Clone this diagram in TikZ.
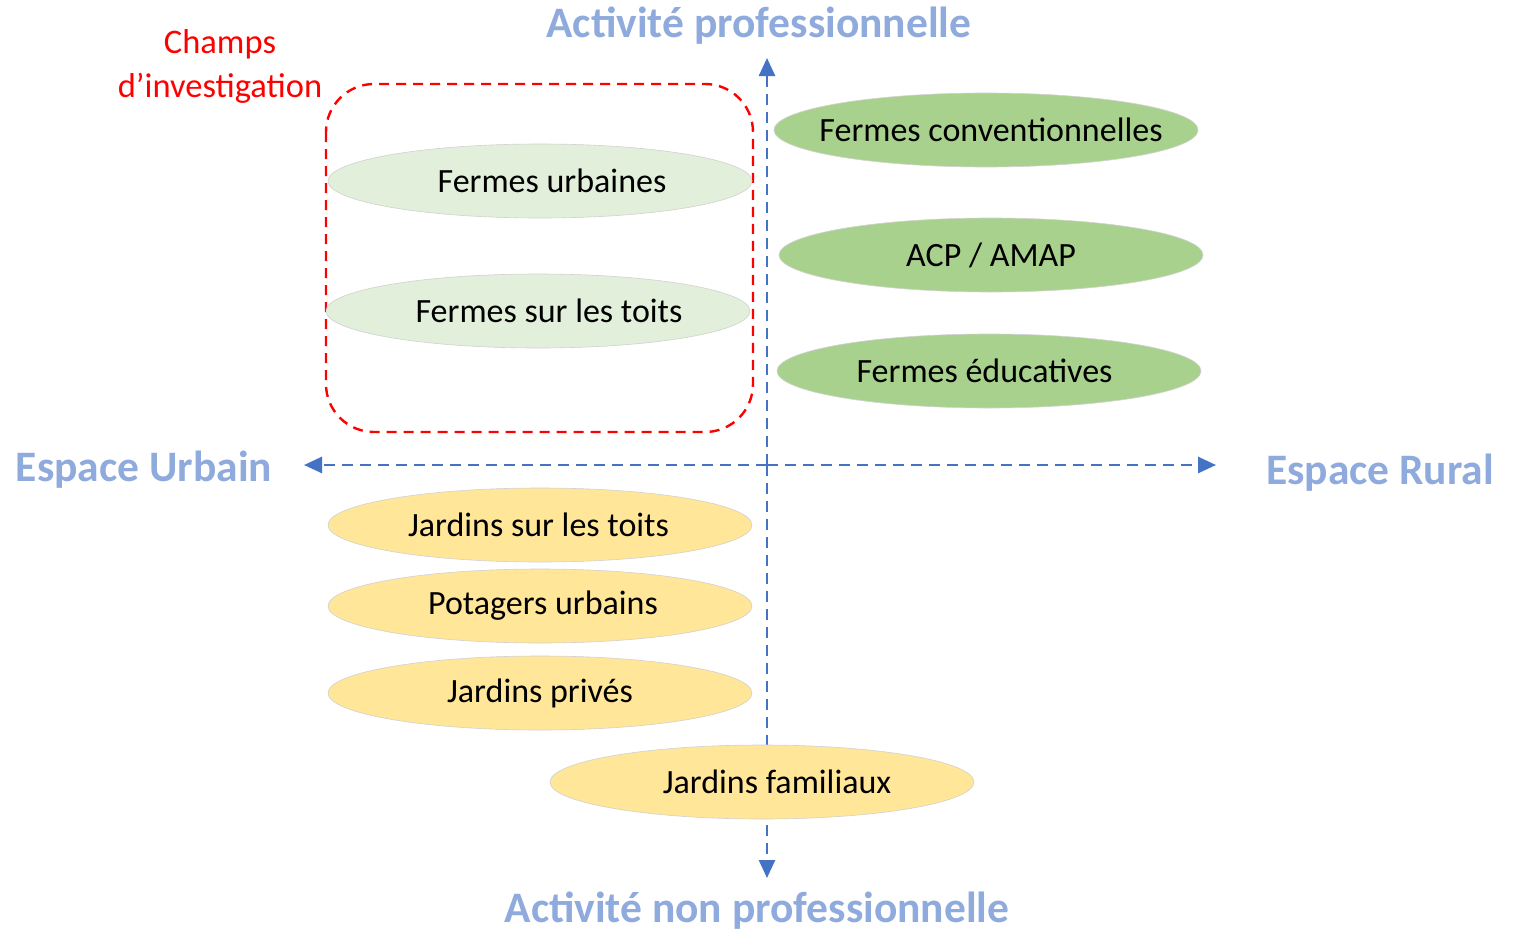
\documentclass[tikz,border=0pt]{standalone}
\usepackage{fontspec}
\setmainfont{Carlito}
\usetikzlibrary{shapes.geometric,arrows.meta}
\definecolor{axisblue}{HTML}{4472C4}
\definecolor{labelblue}{HTML}{8FAADC}
\definecolor{lightgreen}{HTML}{E2EFDA}
\definecolor{midgreen}{HTML}{A9D18E}
\definecolor{lightyellow}{HTML}{FFE699}
\definecolor{redline}{HTML}{FF0000}
\newcommand{\rsh}[2]{\hspace*{#1}#2}
\newcommand{\lsh}[2]{#2\hspace*{#1}}
\tikzset{
  oval/.style={ellipse, draw=black!18, line width=0.6pt, minimum width=424pt, minimum height=74pt, inner xsep=-60pt, inner ysep=0pt, font=\fontsize{34}{40}\selectfont},
  lg/.style={oval, fill=lightgreen},
  mg/.style={oval, fill=midgreen},
  yw/.style={oval, fill=lightyellow},
  axislbl/.style={text=labelblue, font=\bfseries\fontsize{43.5}{46}\selectfont, inner sep=0pt},
  axisline/.style={axisblue, line width=2.6pt, dash pattern=on 11pt off 7pt, -{Triangle[length=18pt,width=16pt]}},
}
\begin{document}
\begin{tikzpicture}[x=1pt,y=-1pt]
\useasboundingbox (0,0) rectangle (1514,934);
\fill[white] (0,0) rectangle (1514,934);
\coordinate (c) at (767,465);
\coordinate (top) at (767,58);
\coordinate (bot) at (767,878);
\coordinate (left) at (304,465);
\coordinate (right) at (1216,465);
\draw[axisline] (c) -- (top);
\draw[axisline] (c) -- (bot);
\draw[axisline] (c) -- (left);
\draw[axisline] (c) -- (right);
\node[axislbl] (tl) at (759,26) {Activité professionnelle};
\node[axislbl] (bl) at (757,911) {Activité non professionnelle};
\node[axislbl] (ll) at (144,470) {Espace Urbain};
\node[axislbl] (rl) at (1380,473) {Espace Rural};
\draw[redline, line width=2.4pt, dash pattern=on 10pt off 7pt, rounded corners=48pt] (326,84) rectangle (753,432);
\node[text=redline, font=\fontsize{34.5}{44}\selectfont, align=center] (champs) at (220,66) {Champs\\d’investigation};
\node[lg] (fu) at (540,181) {\rsh{24pt}{Fermes urbaines}};
\node[lg] (ft) at (538,311) {\rsh{22pt}{Fermes sur les toits}};
\node[mg] (fc) at (986,130) {\rsh{10pt}{Fermes conventionnelles}};
\node[mg] (acp) at (991,255) {ACP / AMAP};
\node[mg] (fe) at (989,371) {\lsh{9pt}{Fermes éducatives}};
\node[yw] (js) at (540,525) {\lsh{3pt}{Jardins sur les toits}};
\node[yw] (pu) at (540,606) {\rsh{6pt}{Potagers urbains}};
\node[yw] (jp) at (540,693) {Jardins privés};
\node[yw] (jf) at (762,782) {\rsh{30pt}{Jardins familiaux}};
\end{tikzpicture}
\end{document}
